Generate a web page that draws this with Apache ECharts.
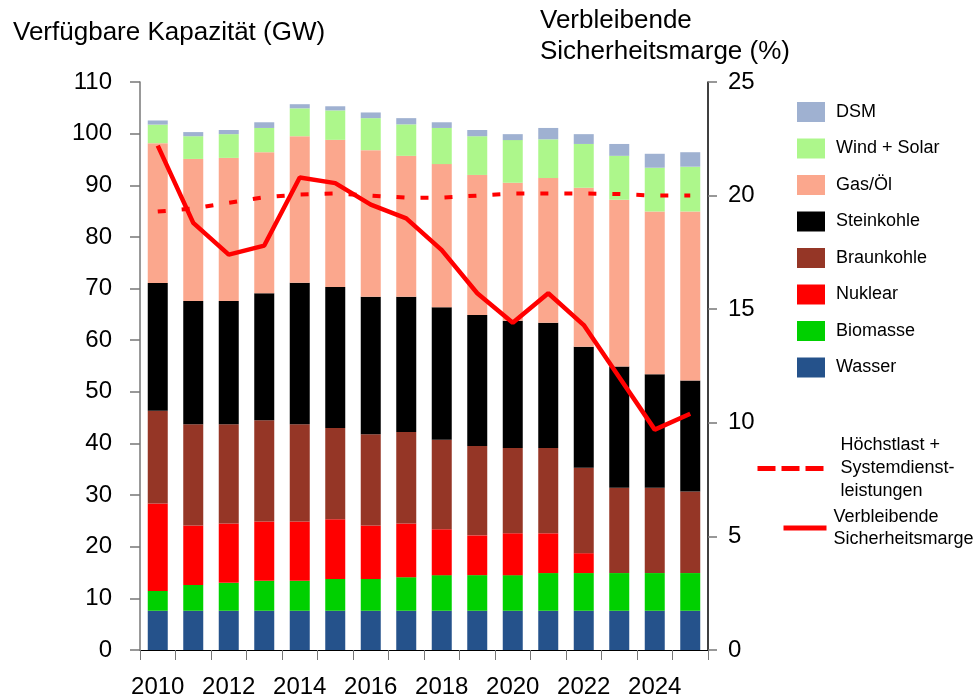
<!DOCTYPE html>
<html>
<head>
<meta charset="utf-8">
<script src="https://cdn.jsdelivr.net/npm/echarts@6/dist/echarts.min.js"></script>
<style>html,body{margin:0;padding:0;background:#fff}#c{width:976px;height:699px}</style>
</head>
<body>
<div id="c"></div>
<script>
const years = ['2010','2011','2012','2013','2014','2015','2016','2017','2018','2019','2020','2021','2022','2023','2024','2025'];
const wasser     = [7.6,7.6,7.6,7.6,7.6,7.6,7.6,7.6,7.6,7.6,7.6,7.6,7.6,7.6,7.6,7.6];
const biomasse   = [3.85,5.0,5.4,5.8,5.8,6.15,6.15,6.5,6.9,6.9,6.9,7.3,7.3,7.3,7.3,7.3];
const nuklear    = [16.9,11.5,11.5,11.5,11.5,11.55,10.35,10.4,8.9,7.7,8.1,7.7,3.85,0,0,0];
const braunkohle = [18.0,19.6,19.2,19.6,18.8,17.7,17.7,17.7,17.3,17.3,16.5,16.5,16.55,16.5,16.5,15.8];
const steinkohle = [24.7,23.9,23.9,24.6,27.4,27.3,26.6,26.2,25.7,25.4,24.65,24.3,23.45,23.5,22.0,21.5];
const gasOel     = [27.1,27.5,27.7,27.3,28.4,28.5,28.4,27.3,27.7,27.1,26.75,28.0,30.75,32.3,31.5,32.7];
const windSolar  = [3.6,4.4,4.6,4.7,5.4,5.7,6.2,6.1,7.0,7.5,8.25,7.5,8.5,8.5,8.5,8.7];
const dsm        = [0.8,0.8,0.8,1.1,0.8,0.8,1.1,1.2,1.1,1.2,1.15,2.2,1.9,2.3,2.7,2.8];
const hoechstlast = [84.9,85.5,86.6,87.7,88.2,88.4,88.0,87.6,87.6,88.0,88.4,88.4,88.4,88.3,88.0,88.0];
const marge = [22.2,18.8,17.4,17.8,20.8,20.55,19.6,19.0,17.6,15.7,14.4,15.7,14.3,12.0,9.7,10.4];
const leftTicks = [0,110,10];
const rightTicks = [0,25,5];

const FONT = '"Liberation Sans", Arial, sans-serif';
const stackDefs = [
  ['Wasser', wasser, '#25528B'],
  ['Biomasse', biomasse, '#00D000'],
  ['Nuklear', nuklear, '#FF0000'],
  ['Braunkohle', braunkohle, '#953626'],
  ['Steinkohle', steinkohle, '#000000'],
  ['Gas/Öl', gasOel, '#FBA78D'],
  ['Wind + Solar', windSolar, '#ADF78B'],
  ['DSM', dsm, '#9FB1D1']
];
const series = stackDefs.map(([name, data, color]) => ({
  name, type: 'bar', stack: 'cap', data, barWidth: 20,
  itemStyle: { color }, z: 2
}));
series.push({
  name: 'Höchstlast +\nSystemdienst-\nleistungen', type: 'line', yAxisIndex: 0, data: hoechstlast,
  symbol: 'none', lineStyle: { color: '#FF0000', width: 4, type: [8, 16] }, itemStyle: { color: '#FF0000' }, z: 5
});
series.push({
  name: 'Verbleibende\nSicherheitsmarge', type: 'line', yAxisIndex: 1, data: marge,
  symbol: 'none', lineStyle: { color: '#FF0000', width: 4.5 }, itemStyle: { color: '#FF0000' }, z: 6
});

const axisLabelStyle = { fontSize: 24, color: '#000', fontFamily: FONT };
const option = {
  animation: false,
  textStyle: { fontFamily: FONT },
  title: [
    { text: 'Verfügbare Kapazität (GW)', left: 8, top: 15,
      textStyle: { fontSize: 26, fontWeight: 'normal', color: '#000', fontFamily: FONT } },
    { text: 'Verbleibende\nSicherheitsmarge (%)', left: 535, top: 0,
      textStyle: { fontSize: 26, fontWeight: 'normal', color: '#000', fontFamily: FONT, lineHeight: 31 } }
  ],
  grid: { left: 140, right: 268, top: 82, bottom: 45.5 },
  legend: [
    { data: ['DSM','Wind + Solar','Gas/Öl','Steinkohle','Braunkohle','Nuklear','Biomasse','Wasser'],
      orient: 'vertical', left: 797, top: 102, padding: 0, itemWidth: 28, itemHeight: 20, itemGap: 16.5,
      icon: 'rect', textStyle: { fontSize: 18, color: '#000', fontFamily: FONT, padding: [0,0,0,6] } },
    { data: ['Höchstlast +\nSystemdienst-\nleistungen'],
      orient: 'vertical', left: 755, top: 434, padding: 0, itemWidth: 66, itemHeight: 14,
      itemStyle: { opacity: 0 },
      lineStyle: { width: 5, type: [18, 6], color: '#FF0000' },
      textStyle: { fontSize: 18, color: '#000', fontFamily: FONT, lineHeight: 23, padding: [0,0,0,12] } },
    { data: ['Verbleibende\nSicherheitsmarge'],
      orient: 'vertical', left: 781, top: 506, padding: 0, itemWidth: 43, itemHeight: 14,
      itemStyle: { opacity: 0 },
      lineStyle: { width: 5, color: '#FF0000' },
      textStyle: { fontSize: 18, color: '#000', fontFamily: FONT, lineHeight: 22, padding: [0,0,0,2] } }
  ],
  xAxis: {
    type: 'category', data: years, boundaryGap: true,
    axisLine: { lineStyle: { color: '#000', width: 1 } },
    axisTick: { show: true, alignWithLabel: false, interval: 0, length: 10, lineStyle: { color: '#777' } },
    axisLabel: { ...axisLabelStyle, interval: 1, margin: 25 }
  },
  yAxis: [
    { type: 'value', min: leftTicks[0], max: leftTicks[1], interval: leftTicks[2],
      splitLine: { show: false },
      axisLine: { show: true, lineStyle: { color: '#777', width: 1.5 } },
      axisTick: { show: true, length: 10, lineStyle: { color: '#777', width: 1.5 } },
      axisLabel: { ...axisLabelStyle, margin: 28 } },
    { type: 'value', min: rightTicks[0], max: rightTicks[1], interval: rightTicks[2],
      position: 'right',
      splitLine: { show: false },
      axisLine: { show: true, lineStyle: { color: '#000', width: 1.5 } },
      axisTick: { show: true, length: 9, lineStyle: { color: '#777', width: 1.5 } },
      axisLabel: { ...axisLabelStyle, margin: 20 } }
  ],
  series
};
const chart = echarts.init(document.getElementById('c'), null, { renderer: 'canvas' });
chart.setOption(option);
</script>
</body>
</html>
